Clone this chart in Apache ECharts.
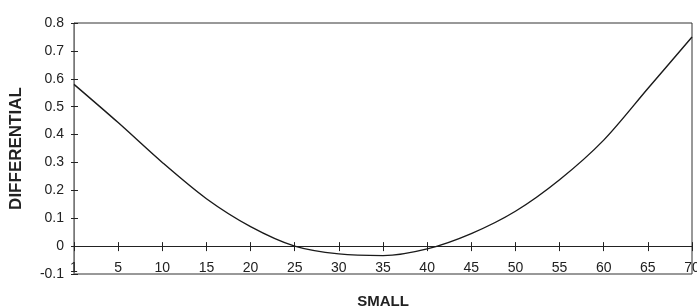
<!DOCTYPE html>
<html>
<head>
<meta charset="utf-8">
<script src="https://cdn.jsdelivr.net/npm/echarts@6/dist/echarts.min.js"></script>
<style>
  html, body { margin: 0; padding: 0; background: #fff; }
  #chart { width: 697px; height: 308px; }
</style>
</head>
<body>
<div id="chart"></div>
<script>
// x positions of the points (the first one is labelled "1" on the axis)
const xValues = [0, 5, 10, 15, 20, 25, 30, 35, 40, 45, 50, 55, 60, 65, 70];
const diffValues = [0.58, 0.443, 0.30, 0.17, 0.07, 0.0, -0.028, -0.034, -0.01, 0.045, 0.125, 0.238, 0.38, 0.565, 0.75];
const xTickLabels = ['1', '5', '10', '15', '20', '25', '30', '35', '40', '45', '50', '55', '60', '65', '70'];

const font = 'Liberation Sans, Arial, sans-serif';

const myChart = echarts.init(document.getElementById('chart'));

const baseX = {
  type: 'value',
  min: 0,
  max: 70,
  interval: 5,
  position: 'bottom',
  splitLine: { show: false },
};
const baseY = {
  type: 'value',
  min: -0.1,
  max: 0.8,
  interval: 0.1,
  position: 'left',
  splitLine: { show: false },
  axisLine: { onZero: false, lineStyle: { color: '#777', width: 1 } },
};

const option = {
  animation: false,
  grid: {
    left: 74,
    right: 5,
    top: 23,
    bottom: 34,
    outerBoundsMode: 'none',
    show: true,
    borderColor: '#333',
    borderWidth: 1,
  },
  xAxis: [
    // labels sit just above the bottom edge, like the original
    Object.assign({}, baseX, {
      name: 'SMALL',
      nameLocation: 'middle',
      nameGap: 20,
      nameTextStyle: { fontFamily: font, fontSize: 15, fontWeight: 'bold', color: '#222' },
      axisLine: { show: false, onZero: false },
      axisTick: { show: false },
      axisLabel: {
        inside: true,
        margin: -1,
        fontFamily: font,
        fontSize: 14,
        color: '#222',
        showMinLabel: true,
        showMaxLabel: true,
        formatter: (v) => xTickLabels[Math.round(v / 5)],
      },
    }),
    // zero line, ticks above
    Object.assign({}, baseX, {
      axisLine: { onZero: true, onZeroAxisIndex: 0, lineStyle: { color: '#222', width: 1 } },
      axisTick: { show: true, inside: true, length: 4, lineStyle: { color: '#222' } },
      axisLabel: { show: false },
    }),
    // zero line, ticks below
    Object.assign({}, baseX, {
      axisLine: { onZero: true, onZeroAxisIndex: 1, lineStyle: { color: '#222', width: 1 } },
      axisTick: { show: true, inside: false, length: 5, lineStyle: { color: '#222' } },
      axisLabel: { show: false },
    }),
  ],
  yAxis: [
    Object.assign({}, baseY, {
      name: 'DIFFERENTIAL',
      nameLocation: 'middle',
      nameGap: 49,
      nameTextStyle: { fontFamily: font, fontSize: 17, fontWeight: 'bold', color: '#222' },
      axisTick: { show: true, inside: false, length: 3, lineStyle: { color: '#222' } },
      axisLabel: {
        margin: 10,
        fontFamily: font,
        fontSize: 14,
        color: '#222',
        showMinLabel: true,
        showMaxLabel: true,
      },
    }),
    Object.assign({}, baseY, {
      axisTick: { show: true, inside: true, length: 4, lineStyle: { color: '#222' } },
      axisLabel: { show: false },
    }),
  ],
  series: [
    {
      type: 'line',
      data: xValues.map((x, i) => [x, diffValues[i]]),
      xAxisIndex: 0,
      yAxisIndex: 0,
      smooth: 0.3,
      symbol: 'none',
      lineStyle: { color: '#1a1a1a', width: 1.4 },
    },
  ],
};

myChart.setOption(option);
</script>
</body>
</html>
